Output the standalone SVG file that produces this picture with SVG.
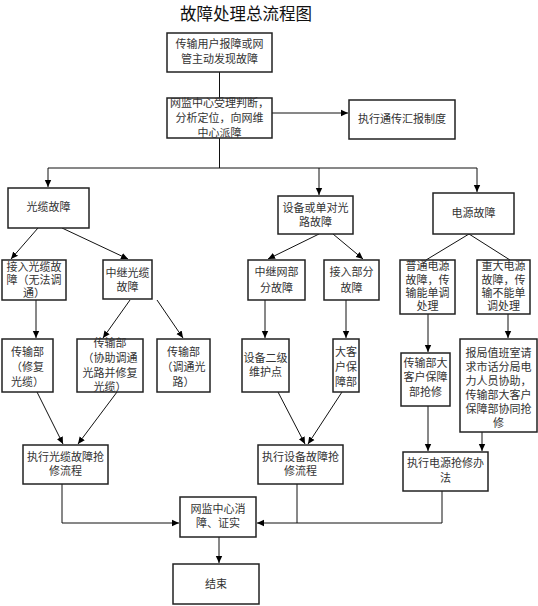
<svg xmlns="http://www.w3.org/2000/svg" width="538" height="606" viewBox="0 0 538 606">
<defs>
<marker id="ah" markerWidth="8" markerHeight="8" refX="7" refY="4" orient="auto" markerUnits="userSpaceOnUse">
<path d="M0,0.8 L7,4 L0,7.2 Z" fill="#000"/>
</marker>
<style>
.b{fill:#fff;stroke:#222;stroke-width:1.5}
.t{font-family:"Noto Sans CJK SC","Liberation Sans",sans-serif;font-size:11px;fill:#333;text-anchor:middle}
.c{fill:none;stroke:#111;stroke-width:1}
.a{marker-end:url(#ah)}
</style>
</defs>
<rect width="538" height="606" fill="#fff"/>
<text x="246" y="20" style="font-family:'Noto Sans CJK SC',sans-serif;font-size:16.5px;fill:#111;text-anchor:middle">故障处理总流程图</text>

<g id="connectors">
<path class="c" d="M219.5,72 V98"/>
<path class="c a" d="M272,113 H348"/>
<path class="c" d="M219.5,138 V168 M48,168 H477"/>
<path class="c a" d="M48,168 V187"/>
<path class="c a" d="M319,168 V195"/>
<path class="c a" d="M477,168 V192"/>
<path class="c a" d="M38,228 L11,259"/>
<path class="c a" d="M62,228 L128,259"/>
<path class="c a" d="M319,234 L268,259"/>
<path class="c a" d="M333,234 L363,259"/>
<path class="c" d="M469,234 L426,260 M469,234 L510,260"/>
<path class="c a" d="M36,300 V338"/>
<path class="c a" d="M130,300 L103,338"/>
<path class="c a" d="M157,300 L183,338"/>
<path class="c a" d="M265,300 V338"/>
<path class="c a" d="M346,300 V338"/>
<path class="c a" d="M428,314 V352"/>
<path class="c a" d="M508,314 V338"/>
<path class="c a" d="M37,392 L63,444"/>
<path class="c a" d="M117,392 L78,444"/>
<path class="c a" d="M278,392 L305,444"/>
<path class="c a" d="M342,392 L308,444"/>
<path class="c a" d="M428,406 V451"/>
<path class="c a" d="M482,432 V451"/>
<path class="c a" d="M62,484 V523 H179"/>
<path class="c" d="M297,484 V523"/>
<path class="c a" d="M442,491 V523 H257"/>
<path class="c a" d="M219,537 V563"/>
</g>

<g id="n1"><rect class="b" x="167" y="33" width="105" height="39"/><text class="t" x="219.5" y="48">传输用户报障或网</text><text class="t" x="219.5" y="63">管主动发现故障</text></g>
<g id="n2"><rect class="b" x="167" y="98" width="105" height="40"/><text class="t" x="219.5" y="107">网监中心受理判断，</text><text class="t" x="219.5" y="122">分析定位，向网维</text><text class="t" x="219.5" y="137">中心派障</text></g>
<g id="n3"><rect class="b" x="349" y="100" width="106" height="39"/><text class="t" x="402" y="123">执行通传汇报制度</text></g>
<g id="n4"><rect class="b" x="8" y="188" width="81" height="40"/><text class="t" x="48.5" y="211">光缆故障</text></g>
<g id="n5"><rect class="b" x="278" y="196" width="75" height="38"/><text class="t" x="315.5" y="212">设备或单对光</text><text class="t" x="315.5" y="226">路故障</text></g>
<g id="n6"><rect class="b" x="433" y="193" width="81" height="41"/><text class="t" x="473.5" y="217">电源故障</text></g>
<g id="n7"><rect class="b" x="2" y="260" width="64" height="40"/><text class="t" x="34" y="271">接入光缆故</text><text class="t" x="34" y="284">障（无法调</text><text class="t" x="34" y="297">通）</text></g>
<g id="n8"><rect class="b" x="103" y="260" width="49" height="39"/><text class="t" x="127.5" y="277">中继光缆</text><text class="t" x="127.5" y="291">故障</text></g>
<g id="n9"><rect class="b" x="248" y="260" width="57" height="40"/><text class="t" x="276.5" y="276">中继网部</text><text class="t" x="276.5" y="292">分故障</text></g>
<g id="n10"><rect class="b" x="324" y="260" width="55" height="40"/><text class="t" x="351.5" y="276">接入部分</text><text class="t" x="351.5" y="292">故障</text></g>
<g id="n11"><rect class="b" x="400" y="260" width="55" height="54"/><text class="t" x="427.5" y="270">普通电源</text><text class="t" x="427.5" y="284">故障，传</text><text class="t" x="427.5" y="297">输能单调</text><text class="t" x="427.5" y="310">处理</text></g>
<g id="n12"><rect class="b" x="477" y="260" width="53" height="54"/><text class="t" x="503.5" y="270">重大电源</text><text class="t" x="503.5" y="284">故障，传</text><text class="t" x="503.5" y="297">输不能单</text><text class="t" x="503.5" y="310">调处理</text></g>
<g id="n13"><rect class="b" x="2" y="339" width="51" height="53"/><text class="t" x="27.5" y="356">传输部</text><text class="t" x="27.5" y="371">（修复</text><text class="t" x="27.5" y="386">光缆）</text></g>
<g id="n14"><rect class="b" x="77" y="339" width="66" height="53"/><text class="t" x="110" y="347">传输部</text><text class="t" x="110" y="362">（协助调通</text><text class="t" x="110" y="377">光路并修复</text><text class="t" x="110" y="391">光缆）</text></g>
<g id="n15"><rect class="b" x="157" y="339" width="53" height="53"/><text class="t" x="183.5" y="356">传输部</text><text class="t" x="183.5" y="371">（调通光</text><text class="t" x="183.5" y="386">路）</text></g>
<g id="n16"><rect class="b" x="242" y="339" width="47" height="53"/><text class="t" x="265.5" y="362">设备二级</text><text class="t" x="265.5" y="376">维护点</text></g>
<g id="n17"><rect class="b" x="333" y="339" width="26" height="53"/><text class="t" x="346" y="356">大客</text><text class="t" x="346" y="371">户保</text><text class="t" x="346" y="386">障部</text></g>
<g id="n18"><rect class="b" x="401" y="353" width="49" height="53"/><text class="t" x="425.5" y="367">传输部大</text><text class="t" x="425.5" y="381">客户保障</text><text class="t" x="425.5" y="396">部抢修</text></g>
<g id="n19"><rect class="b" x="460" y="339" width="77" height="93"/><text class="t" x="498.5" y="357">报局值班室请</text><text class="t" x="498.5" y="371">求市话分局电</text><text class="t" x="498.5" y="385">力人员协助，</text><text class="t" x="498.5" y="399">传输部大客户</text><text class="t" x="498.5" y="413">保障部协同抢</text><text class="t" x="498.5" y="427">修</text></g>
<g id="n20"><rect class="b" x="23" y="445" width="85" height="39"/><text class="t" x="65.5" y="461">执行光缆故障抢</text><text class="t" x="65.5" y="475">修流程</text></g>
<g id="n21"><rect class="b" x="258" y="445" width="85" height="39"/><text class="t" x="300.5" y="461">执行设备故障抢</text><text class="t" x="300.5" y="475">修流程</text></g>
<g id="n22"><rect class="b" x="403" y="452" width="85" height="39"/><text class="t" x="445.5" y="467">执行电源抢修办</text><text class="t" x="445.5" y="482">法</text></g>
<g id="n23"><rect class="b" x="180" y="497" width="76" height="40"/><text class="t" x="218" y="513">网监中心消</text><text class="t" x="218" y="527">障、证实</text></g>
<g id="n24"><rect class="b" x="173" y="564" width="86" height="40"/><text class="t" x="216" y="588">结束</text></g>
</svg>
